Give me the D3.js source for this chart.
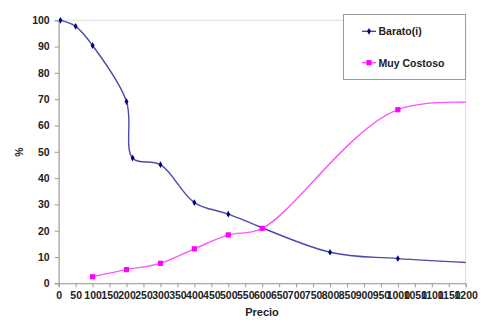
<!DOCTYPE html>
<html>
<head>
<meta charset="utf-8">
<script src="https://cdn.jsdelivr.net/npm/d3@7"></script>
<style>
  html, body { margin: 0; padding: 0; background: #fff; }
  svg { display: block; }
  text { font-family: "Liberation Sans", Arial, sans-serif; font-weight: bold; fill: #222; }
</style>
</head>
<body>
<svg id="chart" width="483" height="326"></svg>
<script>
// Price points and responses (%)
const baratoPrecio = [5, 50, 100, 200, 218, 300, 400, 500, 800, 1000, 1500];
const baratoPct    = [100, 97.7, 90.4, 69.1, 47.6, 45.1, 30.7, 26.3, 11.8, 9.4, 6.2];
const costosoPrecio = [100, 200, 300, 400, 500, 600, 1000, 1400];
const costosoPct    = [2.5, 5.2, 7.6, 13.1, 18.4, 20.9, 66.0, 66.5];
const xTicks = d3.range(0, 1201, 50);
const yTicks = d3.range(0, 101, 10);
const seriesNames = ["Barato(i)", "Muy Costoso"];

const svg = d3.select("#chart");
const plotL = 58.7, plotR = 465.7, plotT = 20.3, plotB = 283.3;

const x = d3.scaleLinear().domain([0, 1200]).range([plotL, plotR]);
const y = d3.scaleLinear().domain([0, 100]).range([plotB, plotT]);

// plot area frame
svg.append("rect")
  .attr("x", plotL).attr("y", plotT)
  .attr("width", plotR - plotL).attr("height", plotB - plotT)
  .attr("fill", "none").attr("stroke", "#dcdcdc").attr("stroke-width", 1);

svg.append("clipPath").attr("id", "plotClip")
  .append("rect").attr("x", plotL).attr("y", plotT - 6)
  .attr("width", plotR - plotL).attr("height", plotB - plotT + 12);

// axes
const xAxis = svg.append("g")
  .attr("transform", `translate(0,${plotB})`)
  .call(d3.axisBottom(x).tickValues(xTicks).tickSize(4).tickPadding(4).tickFormat(d3.format("d")));
const yAxis = svg.append("g")
  .attr("transform", `translate(${plotL},0)`)
  .call(d3.axisLeft(y).tickValues(yTicks).tickSize(4).tickPadding(5));
[xAxis, yAxis].forEach(g => {
  g.select(".domain").attr("stroke", "#9a9a9a");
  g.selectAll(".tick line").attr("stroke", "#9a9a9a");
  g.selectAll(".tick text")
    .attr("font-family", "Liberation Sans, Arial, sans-serif")
    .attr("font-weight", "bold").attr("font-size", 10.5).attr("fill", "#222");
});

// axis titles
svg.append("text")
  .attr("transform", "translate(23,152) rotate(-90)")
  .attr("text-anchor", "middle").attr("font-size", 10.5).text("%");
svg.append("text")
  .attr("x", 262).attr("y", 316)
  .attr("text-anchor", "middle").attr("font-size", 11).text("Precio");

const line = d3.line().curve(d3.curveCatmullRom.alpha(0.5))
  .x(d => x(d[0])).y(d => y(d[1]));

const barato = baratoPrecio.map((p, i) => [p, baratoPct[i]]);
const costoso = costosoPrecio.map((p, i) => [p, costosoPct[i]]);

const plot = svg.append("g").attr("clip-path", "url(#plotClip)");

plot.append("path").datum(barato).attr("d", line)
  .attr("fill", "none").attr("stroke", "#4b4bad").attr("stroke-width", 1.4);
plot.append("path").datum(costoso).attr("d", line)
  .attr("fill", "none").attr("stroke", "#ff55ff").attr("stroke-width", 1.4);

const diamond = d3.symbol().type(d3.symbolDiamond).size(13);
plot.selectAll(".mb").data(barato.filter(d => d[0] <= 1200)).join("path")
  .attr("transform", d => `translate(${x(d[0])},${y(d[1])})`)
  .attr("d", diamond).attr("fill", "#000080");
plot.selectAll(".mc").data(costoso.filter(d => d[0] <= 1200)).join("rect")
  .attr("x", d => x(d[0]) - 2.6).attr("y", d => y(d[1]) - 2.6)
  .attr("width", 5.2).attr("height", 5.2).attr("fill", "#ff00ff");

// legend
const lg = svg.append("g");
lg.append("rect").attr("x", 343.5).attr("y", 14.5).attr("width", 122).attr("height", 65)
  .attr("fill", "#fff").attr("stroke", "#9a9a9a").attr("stroke-width", 1);
const colors = [["#4b4bad", "#000080"], ["#ff55ff", "#ff00ff"]];
seriesNames.forEach((name, i) => {
  const cy = 31.3 + i * 31.4;
  lg.append("line").attr("x1", 362).attr("x2", 376).attr("y1", cy).attr("y2", cy)
    .attr("stroke", colors[i][0]).attr("stroke-width", 1.4);
  if (i === 0) {
    lg.append("path").attr("transform", `translate(369,${cy})`).attr("d", diamond).attr("fill", colors[i][1]);
  } else {
    lg.append("rect").attr("x", 366.4).attr("y", cy - 2.6).attr("width", 5.2).attr("height", 5.2).attr("fill", colors[i][1]);
  }
  lg.append("text").attr("x", 378.5).attr("y", cy + 3.8).attr("font-size", 10.5).text(name);
});
</script>
</body>
</html>
